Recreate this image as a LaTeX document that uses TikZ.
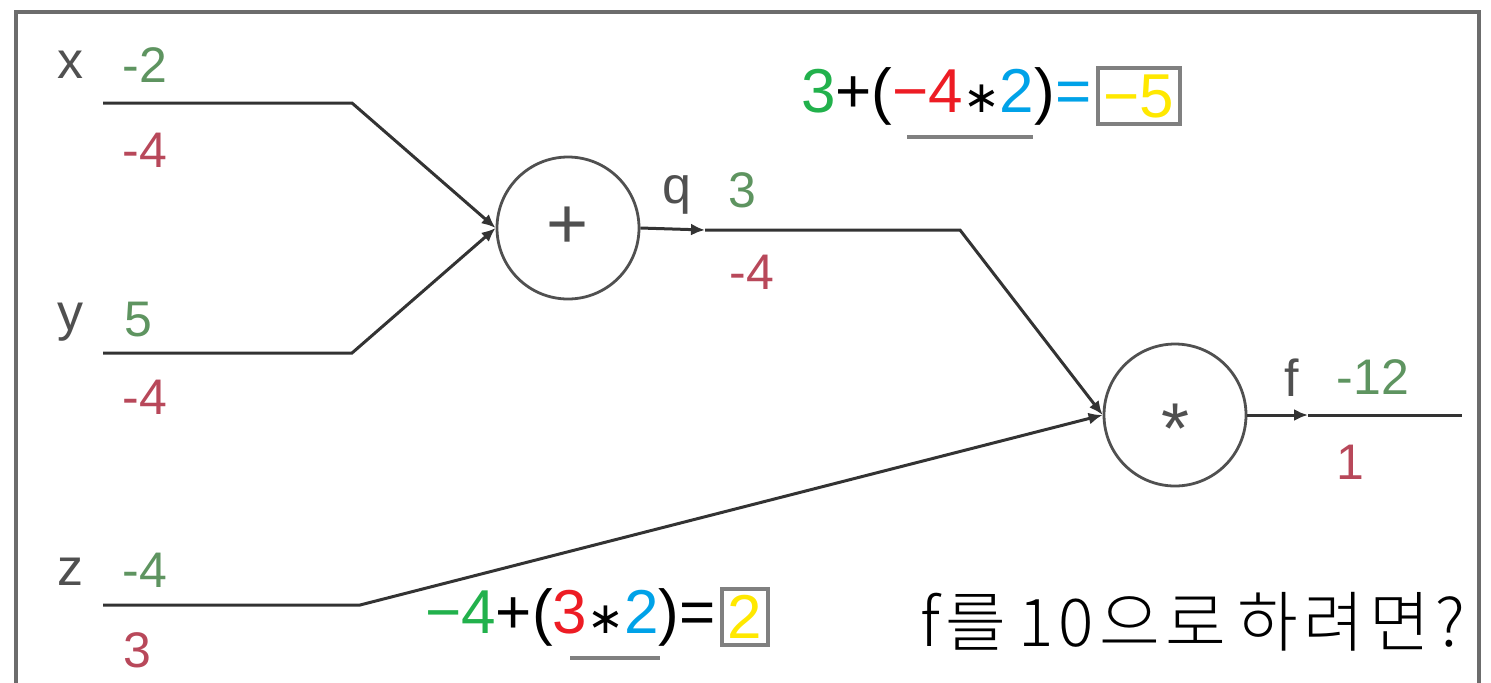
\documentclass[tikz,border=0pt]{standalone}
\usepackage{fontspec}
\setmainfont{Liberation Sans}
\newfontfamily\djvfont{DejaVu Sans}
\newfontfamily\krfont[LetterSpace=8]{Noto Sans CJK KR Light}
\usetikzlibrary{arrows.meta}
\definecolor{wiregray}{HTML}{333333}
\definecolor{namegray}{HTML}{505050}
\definecolor{fwdgreen}{HTML}{5E9460}
\definecolor{backred}{HTML}{B8485A}
\definecolor{eqgreen}{HTML}{22B14C}
\definecolor{eqred}{HTML}{ED1C24}
\definecolor{eqblue}{HTML}{00A2E8}
\definecolor{eqyellow}{HTML}{FFE800}
\tikzset{
  gate/.style={circle, draw=namegray, line width=1.4pt, minimum size=71pt, inner sep=0pt, font=\fontsize{36}{40}\selectfont\color{namegray}},
  wire/.style={draw=wiregray, line width=1.5pt},
  tip/.style={-{Latex[length=7pt,width=6pt]}},
  varname/.style={inner sep=0pt, text=namegray, font=\fontsize{26}{30}\selectfont},
  fwd/.style={inner sep=0pt, text=fwdgreen, font=\fontsize{25}{30}\selectfont},
  back/.style={inner sep=0pt, text=backred, font=\fontsize{25}{30}\selectfont},
  eq/.style={inner sep=0pt, font=\fontsize{31}{36}\selectfont},
  answer/.style={draw=gray, line width=2pt, inner sep=3pt, text=eqyellow, font=\fontsize{31}{36}\selectfont},
}
\newcommand{\opstar}{{\color{black}\djvfont\fontsize{22}{24}\selectfont ∗}}
\begin{document}
\begin{tikzpicture}[x=0.5pt, y=-0.5pt]
  \useasboundingbox (0,0) rectangle (1491,682);
  % frame
  \draw[gray!85!black, line width=2pt] (16,720) -- (16,12) -- (1479,12) -- (1479,720);

  % Define gates
  \node[gate] (plus) at (568,228) {+};
  \node[gate] (mul) at (1175,415) {\raisebox{-19pt}[0pt][0pt]{*}};

  % Define wire points
  \coordinate (x0) at (103,103);
  \coordinate (x1) at (352,103);
  \coordinate (y0) at (103,353);
  \coordinate (y1) at (352,353);
  \coordinate (z0) at (103,605);
  \coordinate (z1) at (360,605);
  \coordinate (qm) at (705,230);
  \coordinate (q1) at (960,230);
  \coordinate (fm) at (1308,415);
  \coordinate (f1) at (1462,415);

  % Draw wires
  \draw[wire, tip] (x0) -- (x1) -- (plus.west);
  \draw[wire, tip] (y0) -- (y1) -- (plus.west);
  \draw[wire, tip] (z0) -- (z1) -- (mul.west);
  \draw[wire, tip] (plus.east) -- (qm);
  \draw[wire, tip] (qm) -- (q1) -- (mul.west);
  \draw[wire, tip] (mul.east) -- (fm);
  \draw[wire] (fm) -- (f1);

  % Values
  \node[varname] (xname) at (70,65) {x};
  \node[fwd] (xval) at (145,65) {-2};
  \node[back] (xgrad) at (145,150) {-4};
  \node[varname] (yname) at (70,322) {y};
  \node[fwd] (yval) at (138,320) {5};
  \node[back] (ygrad) at (145,397) {-4};
  \node[varname] (zname) at (70,572) {z};
  \node[fwd] (zval) at (145,570) {-4};
  \node[back] (zgrad) at (137,650) {3};
  \node[varname] (qname) at (677,195) {q};
  \node[fwd] (qval) at (742,190) {3};
  \node[back] (qgrad) at (752,272) {-4};
  \node[varname] (fname) at (1292,378) {f};
  \node[fwd] (fval) at (1373,377) {-12};
  \node[back] (fgrad) at (1350,462) {1};

  % Equations
  \node[answer] (ansq) at (1139,96) {−5};
  \node[eq, anchor=east] (eqq) at ([xshift=-2pt]ansq.west) {\textcolor{eqgreen}{3}+(\textcolor{eqred}{−4}\opstar\textcolor{eqblue}{2})\textcolor{eqblue}{=}};
  \draw[gray, line width=2pt] (907,137) -- (1033,137);

  \node[answer] (ansz) at (745,617) {2};
  \node[eq, anchor=east] (eqz) at ([xshift=-2pt]ansz.west) {\textcolor{eqgreen}{−4}+(\textcolor{eqred}{3}\opstar\textcolor{eqblue}{2})=};
  \draw[gray, line width=2pt] (570,658) -- (660,658);

  \node[anchor=west, inner sep=0pt, font=\krfont\fontsize{33}{36}\selectfont] (ask) at (920,622) {f를\hspace{6pt}10으로\hspace{6pt}하려면?};
\end{tikzpicture}
\end{document}
